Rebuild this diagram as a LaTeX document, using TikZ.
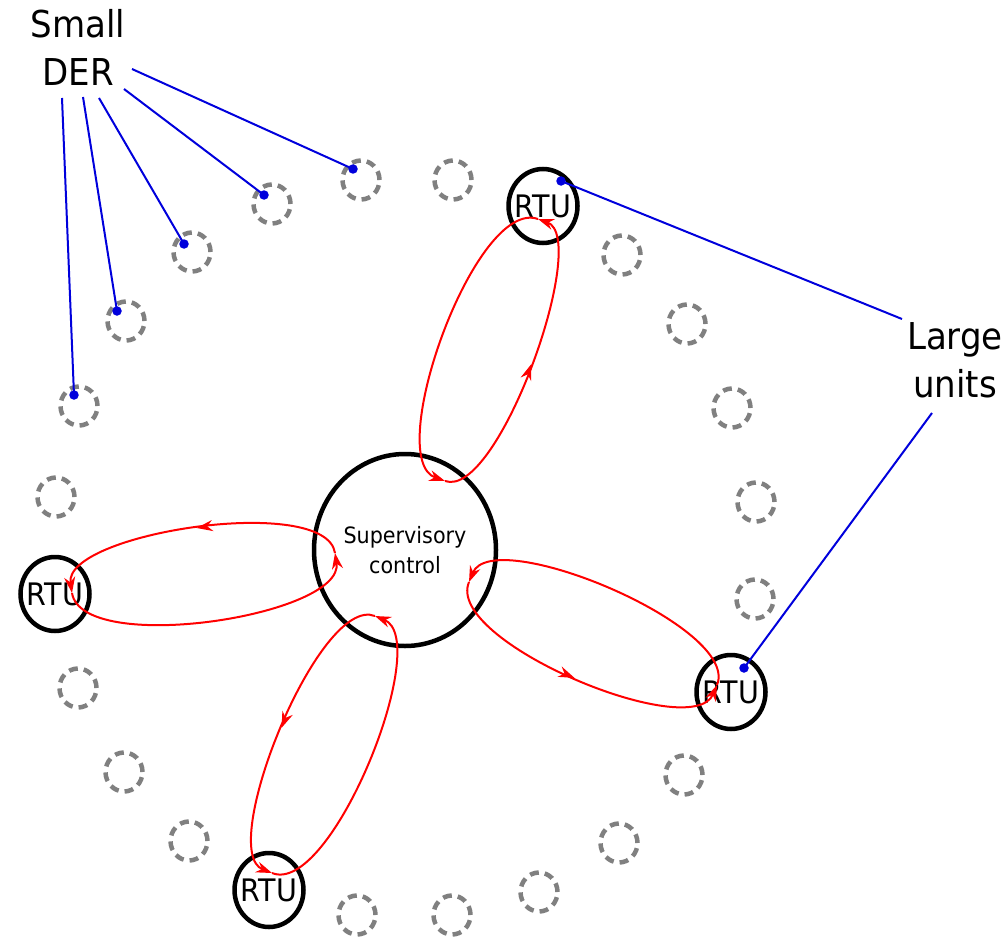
\documentclass[tikz,border=0pt]{standalone}
\usepackage{fontspec}
\setmainfont{DejaVu Sans}
\newfontfamily\tallfont[FakeStretch=0.92]{DejaVu Sans}
\usetikzlibrary{arrows.meta,decorations.markings,shapes.geometric}
\definecolor{derblue}{RGB}{0,0,220}
\definecolor{dgray}{RGB}{128,128,128}
\begin{document}
\begin{tikzpicture}[x=1pt,y=-1pt,
  der/.style={ellipse, draw=dgray, line width=4.5pt, dash pattern=on 9pt off 6pt,
    minimum width=37pt, minimum height=39pt, inner sep=0pt},
  rtu/.style={ellipse, draw=black, line width=4.5pt, minimum width=69pt,
    minimum height=74pt, inner sep=0pt,
    label={[font=\tallfont\fontsize{31}{36}\selectfont, inner sep=0pt]center:RTU}},
  supv/.style={ellipse, draw=black, line width=4.5pt, minimum width=182pt,
    minimum height=192pt, inner sep=0pt},
  lbl/.style={align=center, font=\tallfont\fontsize{37}{48}\selectfont, inner sep=0pt},
  dot/.style={circle, fill=derblue, inner sep=0pt, minimum size=9.5pt},
  lead/.style={draw=derblue, line width=2pt},
  msg/.style={draw=red, line width=2pt, -{Stealth[length=16pt,width=11pt]}},
  midarrow/.style={postaction={decorate}, decoration={markings,
    mark=at position 0.5 with {\arrow[red]{Stealth[length=16pt,width=11pt]}}}}
]
\useasboundingbox (0,0) rectangle (1008,936);

% small DER (dashed)
\foreach \p [count=\i] in {(79,406),(126,321),(192,252),(272,204),(361,180),(453,180),
  (622,255),(687,324),(732,408),(756,502),(755,599),(684,775),(619,843),(539,892),
  (452,915),(357,915),(189,841),(124,772),(78,688),(56,497)}
  \node[der] (d\i) at \p {};

% supervisory control
\node[supv, label={[align=center, font=\tallfont\fontsize{22.5}{30}\selectfont, inner sep=0pt]center:Supervisory\\control}] (sup) at (405,550) {};

% RTUs
\node[rtu] (rtuT) at (543,206) {};
\node[rtu] (rtuL) at (55,594) {};
\node[rtu] (rtuR) at (731,692) {};
\node[rtu] (rtuB) at (269,890) {};

% labels (anchor=base is the baseline of the last line)
\node[lbl, anchor=base] (small) at (78,86) {Small\\DER};
\node[lbl, anchor=base] (large) at (955,397) {Large\\units};

% blue leads
\coordinate (s1) at (62,98);
\coordinate (s2) at (83,97);
\coordinate (s3) at (99,98);
\coordinate (s4) at (124,89);
\coordinate (s5) at (132,69);
\node[dot] (p1) at (74,395) {};
\node[dot] (p2) at (117,311) {};
\node[dot] (p3) at (184,244) {};
\node[dot] (p4) at (264,195) {};
\node[dot] (p5) at (353,169) {};
\foreach \i in {1,...,5} \draw[lead] (s\i) -- (p\i.center);
\node[dot] (q1) at (561,181) {};
\node[dot] (q2) at (744,668) {};
\coordinate (l1) at (902,319);
\coordinate (l2) at (932,413);
\draw[lead] (l1) -- (q1.center);
\draw[lead] (l2) -- (q2.center);

% red message loops
% top
\coordinate (tN) at (445,481);
\coordinate (tF) at (538,219);
\draw[msg, midarrow] (tN) .. controls (498,500) and (591,238) .. (tF);
\draw[msg] (tF) .. controls (475,197) and (382,459) .. (tN);
% left
\coordinate (lN) at (335,553);
\coordinate (lF) at (72,593);
\draw[msg, midarrow] (lN) .. controls (326,493) and (63,533) .. (lF);
\draw[msg] (lF) .. controls (82,656) and (345,616) .. (lN);
% right
\coordinate (rN) at (469,582);
\coordinate (rF) at (717,685);
\draw[msg, midarrow] (rN) .. controls (444,641) and (692,744) .. (rF);
\draw[msg] (rF) .. controls (741,627) and (493,524) .. (rN);
% bottom
\coordinate (bN) at (375,616);
\coordinate (bF) at (272,873);
\draw[msg, midarrow] (bN) .. controls (319,594) and (216,851) .. (bF);
\draw[msg] (bF) .. controls (331,897) and (434,640) .. (bN);
\end{tikzpicture}
\end{document}
